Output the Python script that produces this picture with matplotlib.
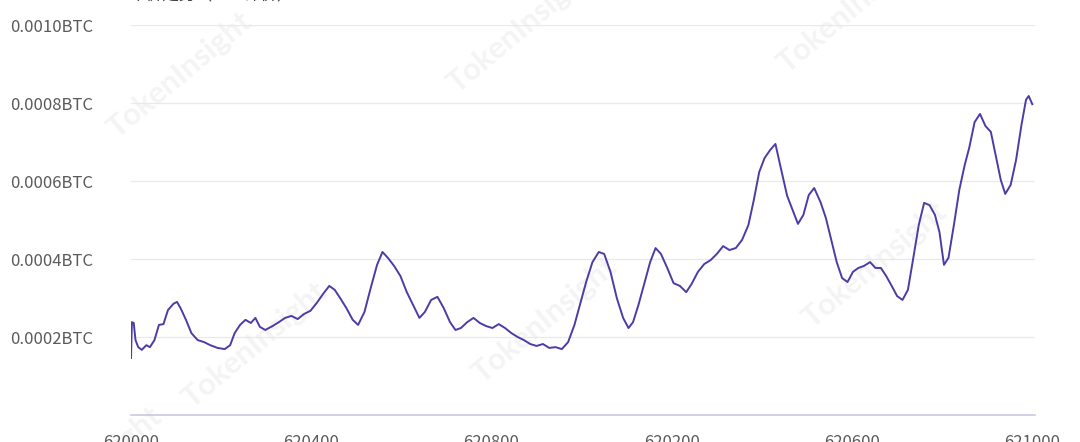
import matplotlib
matplotlib.use("Agg")
import matplotlib.pyplot as plt

plt.rcParams['font.family'] = ['Noto Sans CJK SC', 'DejaVu Sans']

# Block height offsets (from 620000) and price in BTC
blocks = [0, 1, 3, 5, 8, 12, 17, 21, 26, 31, 36, 41, 47, 51, 55, 61, 67, 74, 81, 88,
          96, 104, 110, 115, 121, 127, 133, 138, 143, 149, 157, 164, 171, 178, 185, 192,
          199, 206, 213, 220, 226, 232, 239, 246, 252, 259, 266, 273, 279, 285, 292, 299,
          306, 313, 320, 326, 333, 340, 347, 354, 360, 366, 373, 380, 387, 394, 401, 408,
          415, 422, 429, 436, 443, 450, 457, 464, 471, 478, 485, 492, 498, 505, 512, 519,
          525, 532, 539, 546, 552, 557, 563, 569, 576, 582, 588, 595, 602, 609, 616, 622,
          629, 636, 643, 650, 657, 664, 671, 678, 685, 691, 697, 703, 709, 715, 721, 728,
          734, 740, 746, 752, 758, 765, 771, 777, 783, 789, 795, 801, 807, 813, 820, 826,
          832, 838, 844, 850, 856, 862, 868, 874, 880, 886, 892, 897, 902, 907, 913, 919,
          925, 930, 936, 942, 948, 954, 960, 965, 970, 976, 982, 988, 993, 996, 1000]
price = [0.000146, 0.000238, 0.000236, 0.000192, 0.000174, 0.000167, 0.000179, 0.000174,
         0.000192, 0.000231, 0.000233, 0.000269, 0.000285, 0.000290, 0.000274, 0.000244,
         0.000210, 0.000192, 0.000187, 0.000179, 0.000172, 0.000169, 0.000179, 0.000210,
         0.000231, 0.000244, 0.000236, 0.000249, 0.000226, 0.000218, 0.000228, 0.000238,
         0.000249, 0.000254, 0.000246, 0.000259, 0.000267, 0.000287, 0.000310, 0.000331,
         0.000321, 0.000300, 0.000274, 0.000244, 0.000231, 0.000264, 0.000326, 0.000385,
         0.000418, 0.000403, 0.000382, 0.000356, 0.000315, 0.000282, 0.000249, 0.000264,
         0.000295, 0.000303, 0.000274, 0.000238, 0.000218, 0.000223, 0.000238, 0.000249,
         0.000236, 0.000228, 0.000223, 0.000233, 0.000223, 0.000210, 0.000200, 0.000192,
         0.000182, 0.000177, 0.000182, 0.000172, 0.000174, 0.000169, 0.000187, 0.000231,
         0.000282, 0.000341, 0.000392, 0.000418, 0.000413, 0.000367, 0.000300, 0.000249,
         0.000223, 0.000238, 0.000282, 0.000333, 0.000392, 0.000428, 0.000413, 0.000377,
         0.000338, 0.000331, 0.000315, 0.000336, 0.000367, 0.000387, 0.000397, 0.000413,
         0.000433, 0.000423, 0.000428, 0.000449, 0.000487, 0.000551, 0.000623, 0.000659,
         0.000679, 0.000695, 0.000633, 0.000562, 0.000526, 0.000490, 0.000513, 0.000564,
         0.000582, 0.000546, 0.000505, 0.000449, 0.000392, 0.000351, 0.000341, 0.000367,
         0.000377, 0.000382, 0.000392, 0.000377, 0.000377, 0.000356, 0.000331, 0.000305,
         0.000295, 0.000321, 0.000403, 0.000487, 0.000544, 0.000538, 0.000513, 0.000469,
         0.000385, 0.000403, 0.000487, 0.000577, 0.000641, 0.000685, 0.000751, 0.000772,
         0.000741, 0.000726, 0.000659, 0.000603, 0.000567, 0.000590, 0.000654, 0.000744,
         0.000808, 0.000818, 0.000797]

base_block = 620000
x_tick_pos = [620000, 620200, 620400, 620600, 620800, 621000]
x_tick_labels = ["620000", "620400", "620800", "620200", "620600", "621000"]
y_ticks = [0.0002, 0.0004, 0.0006, 0.0008, 0.0010]
y_tick_labels = ["0.0002BTC", "0.0004BTC", "0.0006BTC", "0.0008BTC", "0.0010BTC"]
title_text = "币价走势（BTC计价）"
watermark = "TokenInsight"

W, H = 1080, 442
fig = plt.figure(figsize=(W / 100, H / 100), dpi=100)
ax = fig.add_axes([131 / W, 27 / H, (1035 - 131) / W, (415 - 25) / H])
ax.set_zorder(2)

# watermarks (behind the chart)
wm_pos = [(180, 75), (520, 30), (850, 10), (255, 345), (545, 320), (875, 265), (90, 470)]
for (px, py) in wm_pos:
    t = fig.text(px / W, 1 - py / H, watermark, rotation=40, fontsize=22, color='#f4f4f4',
                 ha='center', va='center', family=['Lato', 'DejaVu Sans'],
                 fontweight='bold')
    t.set_zorder(0)

xs = [base_block + b for b in blocks]
ax.plot(xs, price, color='#4b3ca6', lw=1.4, zorder=3)

ax.set_xlim(620000, 621003)
ax.set_ylim(0, 0.0010)
ax.set_yticks(y_ticks)
ax.set_yticklabels(y_tick_labels)
ax.set_xticks(x_tick_pos)
ax.set_xticklabels(x_tick_labels)
ax.grid(axis='y', color='#e9e9e9', lw=0.9)
ax.set_axisbelow(True)
for s in ['top', 'right', 'left']:
    ax.spines[s].set_visible(False)
ax.spines['bottom'].set_color('#c9c9e2')
ax.spines['bottom'].set_linewidth(1.2)
ax.tick_params(axis='y', length=0, pad=87, labelsize=12, labelcolor='#5a5a5a')
for lab in ax.get_yticklabels():
    lab.set_horizontalalignment('left')
ax.tick_params(axis='x', length=0, pad=14, labelsize=12, labelcolor='#5a5a5a')
ax.patch.set_alpha(0)

fig.text(130 / W, 1 - 3 / H, title_text, fontsize=12, color='#444444', ha='left', va='bottom')

fig.savefig("out.png", dpi=100)
